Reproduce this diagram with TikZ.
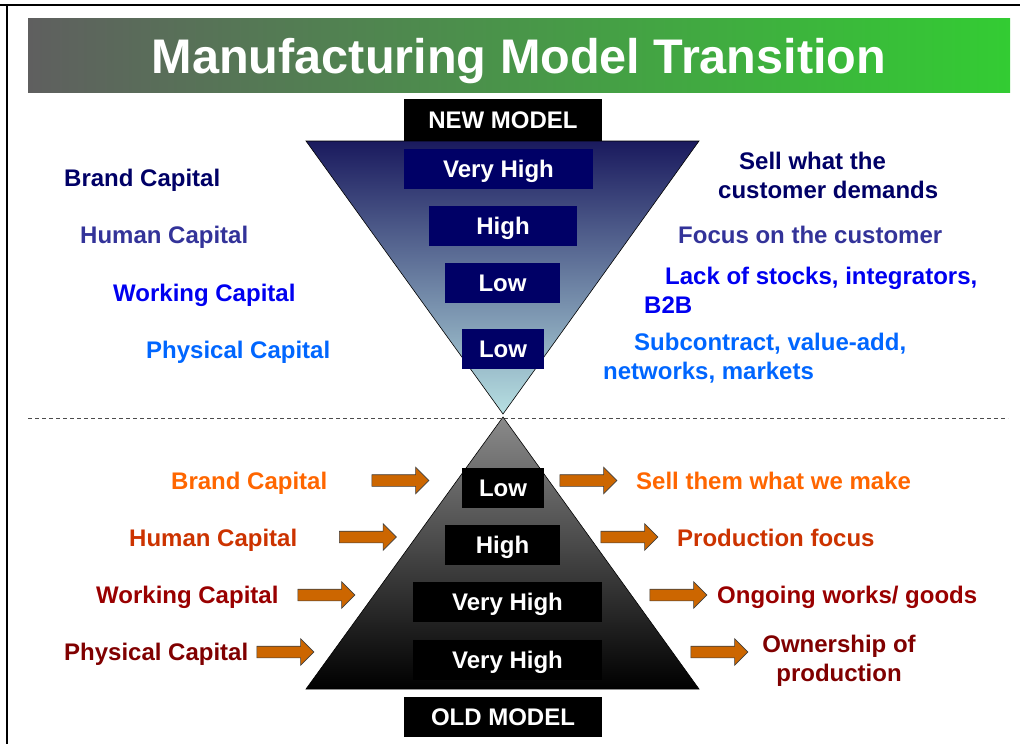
\documentclass[tikz,border=0pt]{standalone}
\usepackage{fontspec}
\setmainfont{Liberation Sans}
\usepackage{xcolor}
\usepackage{tikz}
\usetikzlibrary{shapes.arrows}

\definecolor{titlegray}{HTML}{5F5F5F}
\definecolor{titlegreen}{HTML}{33CC33}
\definecolor{topnavy}{HTML}{1A1A5E}
\definecolor{topcyan}{HTML}{B7E0E2}
\definecolor{pyrgray}{HTML}{8A8A8A}
\definecolor{boxnavy}{HTML}{000066}
\definecolor{arrowfill}{HTML}{CC6600}
\definecolor{brandT}{HTML}{000066}
\definecolor{humanT}{HTML}{333399}
\definecolor{workT}{HTML}{0000F0}
\definecolor{physT}{HTML}{0066FF}
\definecolor{brandB}{HTML}{FF6600}
\definecolor{humanB}{HTML}{CC3300}
\definecolor{workB}{HTML}{990000}
\definecolor{physB}{HTML}{800000}

\tikzset{
        valbox/.style={fill=#1, text=white, minimum height=40pt, text height=17pt, text depth=0pt},
        modelbox/.style={valbox=black, minimum width=198pt},
        arrowbox/.style={single arrow, fill=arrowfill, draw=black!75, line width=0.6pt,
                inner xsep=0pt, inner ysep=5.5pt, text height=0pt, text depth=0pt,
                minimum height=57pt, minimum width=26pt, single arrow head extend=7.5pt},
        lbl/.style={text=#1, anchor=base west, align=left}
}

\begin{document}
\begin{tikzpicture}[x=1pt, y=-1pt,
        every node/.style={font=\fontsize{24}{29}\selectfont\bfseries, inner sep=0pt}]
        \useasboundingbox (0,0) rectangle (1020,744);

        \draw[line width=1.5pt] (0,5) -- (1020,5);
        \draw[line width=1.5pt] (7,5) -- (7,744);

        \shade[left color=titlegray, right color=titlegreen] (28,18) rectangle (1010,92);
        \node[text=white, anchor=base, font=\fontsize{48.6}{56}\selectfont\bfseries] (title) at (519,73) {Manufacturing Model Transition};

        \draw[gray!60!black, line width=0.8pt, dash pattern=on 4pt off 3pt] (28,418) -- (1008,418);

        \shadedraw[top color=topnavy, bottom color=topcyan, draw=black, line width=0.6pt] (306,141) -- (699,141) -- (503,414) -- cycle;
        \shadedraw[top color=pyrgray, bottom color=black, draw=black, line width=0.6pt] (503,417) -- (699,689) -- (306,689) -- cycle;

        \node[modelbox, minimum height=42pt] (newm) at (503,120) {NEW MODEL};
        \node[valbox=boxnavy, minimum width=189pt] (nv1) at (498.5,169) {Very High};
        \node[valbox=boxnavy, minimum width=148pt] (nv2) at (503,226) {High};
        \node[valbox=boxnavy, minimum width=115pt] (nv3) at (502.5,283) {Low};
        \node[valbox=boxnavy, minimum width=82pt] (nv4) at (503,349) {Low};

        \node[valbox=black, minimum width=82pt] (ov1) at (503,488) {Low};
        \node[valbox=black, minimum width=115pt] (ov2) at (502.5,545) {High};
        \node[valbox=black, minimum width=189pt] (ov3) at (507.5,602) {Very High};
        \node[valbox=black, minimum width=189pt] (ov4) at (507.5,659.5) {Very High};
        \node[modelbox] (oldm) at (503,717) {OLD MODEL};

        \foreach \n/\x/\y in {al1/397.5/480.5, ar1/585.5/480.5, al2/365/537, ar2/626.5/537,
                al3/323.5/595, ar3/675.5/595, al4/282.5/652, ar4/716.5/652}
        \node[arrowbox] (\n) at (\x,\y) {};

        \node[lbl=brandT] (nbrand) at (64,186) {Brand Capital};
        \node[lbl=humanT] (nhuman) at (80,243) {Human Capital};
        \node[lbl=workT] (nwork) at (113,301) {Working Capital};
        \node[lbl=physT] (nphys) at (146,358) {Physical Capital};

        \node[lbl=brandT] (nsell) at (718,198) {\hspace*{21pt}Sell what the\\customer demands};
        \node[lbl=humanT] (nfocus) at (678,243) {Focus on the customer};
        \node[lbl=workT] (nstock) at (644,313) {\hspace*{21pt}Lack of stocks, integrators,\\B2B};
        \node[lbl=physT] (nsub) at (603,379) {\hspace*{31pt}Subcontract, value-add,\\networks, markets};

        \node[lbl=brandB] (obrand) at (171,489) {Brand Capital};
        \node[lbl=humanB] (ohuman) at (129,546) {Human Capital};
        \node[lbl=workB] (owork) at (96,603) {Working Capital};
        \node[lbl=physB] (ophys) at (64,660) {Physical Capital};

        \node[lbl=brandB] (osell) at (636,489) {Sell them what we make};
        \node[lbl=humanB] (oprod) at (677,546) {Production focus};
        \node[lbl=workB] (ogoing) at (717,603) {Ongoing works/ goods};
        \node[lbl=physB, anchor=base, align=center] (oown) at (839,681) {Ownership of\\production};
\end{tikzpicture}
\end{document}
